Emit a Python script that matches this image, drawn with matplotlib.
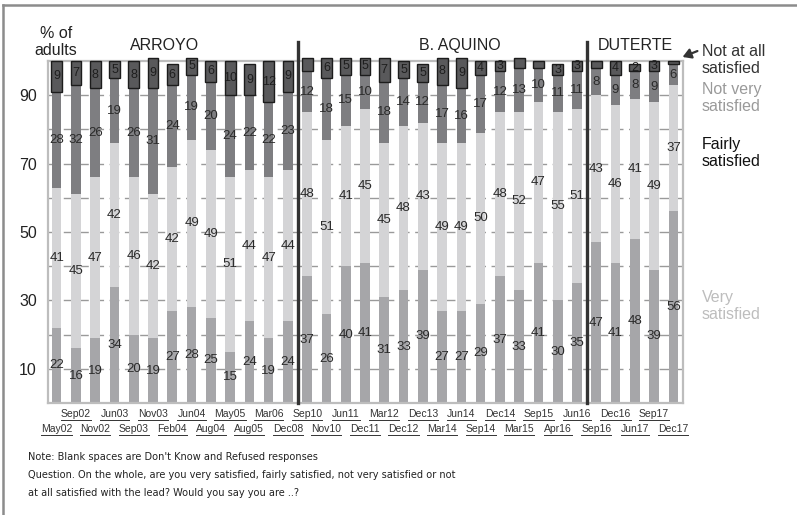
import numpy as np
import matplotlib

matplotlib.use("Agg")
import matplotlib.pyplot as plt
from matplotlib.lines import Line2D
from matplotlib import font_manager

plt.rcParams['font.family'] = ['Liberation Sans', 'DejaVu Sans']

# --- data ---
periods = ["May02", "Sep02", "Nov02", "Jun03", "Sep03", "Nov03", "Feb04", "Jun04",
           "Aug04", "May05", "Aug05", "Mar06", "Dec08",
           "Sep10", "Nov10", "Jun11", "Dec11", "Mar12", "Dec12", "Dec13", "Mar14",
           "Jun14", "Sep14", "Dec14", "Mar15", "Sep15", "Apr16", "Jun16",
           "Sep16", "Dec16", "Jun17", "Sep17", "Dec17"]
very = [22, 16, 19, 34, 20, 19, 27, 28, 25, 15, 24, 19, 24,
        37, 26, 40, 41, 31, 33, 39, 27, 27, 29, 37, 33, 41, 30, 35,
        47, 41, 48, 39, 56]
fairly = [41, 45, 47, 42, 46, 42, 42, 49, 49, 51, 44, 47, 44,
          48, 51, 41, 45, 45, 48, 43, 49, 49, 50, 48, 52, 47, 55, 51,
          43, 46, 41, 49, 37]
not_very = [28, 32, 26, 19, 26, 31, 24, 19, 20, 24, 22, 22, 23,
            12, 18, 15, 10, 18, 14, 12, 17, 16, 17, 12, 13, 10, 11, 11,
            8, 9, 8, 9, 6]
not_at_all = [9, 7, 8, 5, 8, 9, 6, 5, 6, 10, 9, 12, 9,
              4, 6, 5, 5, 7, 5, 5, 8, 9, 4, 3, 3, 2, 3, 3,
              2, 4, 2, 3, 1]
# boxes too small in the original carry no number
not_at_all_shown = [True] * 13 + [False] + [True] * 10 + [False, False, True, True] + \
                   [False, True, True, True, False]
groups = ["ARROYO", "B. AQUINO", "DUTERTE"]
group_sizes = [13, 15, 5]

very = np.array(very)
fairly = np.array(fairly)
not_very = np.array(not_very)
not_at_all = np.array(not_at_all)

c_very = '#a6a6a9'
c_fairly = '#d4d4d6'
c_notvery = '#7e7e81'
c_notatall = '#59595b'

W, H = 797, 515
fig = plt.figure(figsize=(W / 100, H / 100), dpi=100)
ax = fig.add_axes([48 / W, 1 - 403 / H, (683 - 48) / W, (403 - 61) / H])

x = np.arange(len(periods))
bw = 0.5
ax.bar(x, very, bw, color=c_very, zorder=2)
ax.bar(x, fairly, bw, bottom=very, color=c_fairly, zorder=2)
ax.bar(x, not_very, bw, bottom=very + fairly, color=c_notvery, zorder=2)
ax.bar(x, not_at_all, bw + 0.06, bottom=very + fairly + not_very, color=c_notatall,
       edgecolor='#1c1c1c', linewidth=1, zorder=3, clip_on=False)

# numbers inside segments
fs_in = 9.5
for i in x:
    ax.text(i, very[i] / 2, str(very[i]), ha='center', va='center', fontsize=fs_in,
            color='#2a2a2a', zorder=4)
    ax.text(i, very[i] + fairly[i] / 2, str(fairly[i]), ha='center', va='center',
            fontsize=fs_in, color='#2a2a2a', zorder=4)
    ax.text(i, very[i] + fairly[i] + not_very[i] / 2, str(not_very[i]), ha='center',
            va='center', fontsize=fs_in, color='#2a2a2a', zorder=4)
    if not_at_all_shown[i]:
        ax.text(i, very[i] + fairly[i] + not_very[i] + not_at_all[i] / 2,
                str(not_at_all[i]), ha='center', va='center', fontsize=fs_in - 0.5,
                color='#1e1e1e', zorder=5, clip_on=False)

ax.set_xlim(-0.45, len(periods) - 0.5)
ax.set_ylim(0, 100)
ax.set_yticks([10, 30, 50, 70, 90])
ax.set_yticks([20, 40, 60, 80], minor=True)
ax.tick_params(axis='y', which='both', length=0, labelsize=11.5, pad=8, labelcolor='#222')
ax.set_xticks([])
ax.grid(axis='y', which='both', color='#9a9a9a', linestyle=(0, (7, 4)), linewidth=1, zorder=1)
for s in ax.spines.values():
    s.set_color('#bdbdbd')
    s.set_linewidth(1.6)

# presidency dividers
start = 0
for n in group_sizes[:-1]:
    start += n
    ax.add_line(Line2D([start - 0.5, start - 0.5], [0, 105.5], color='#333333', lw=2.4,
                       zorder=6, clip_on=False))

# group titles
ax.text(5.6, 104.4, groups[0], ha='center', va='center', fontsize=11.5, color='#222')
ax.text(20.9, 104.4, groups[1], ha='center', va='center', fontsize=11.5, color='#222')
ax.text(30.0, 104.4, groups[2], ha='center', va='center', fontsize=11.5, color='#222')

fig.text(56 / W, 1 - 42 / H, "% of\nadults", ha='center', va='center', fontsize=11.5,
         color='#222', linespacing=1.15)

# right-hand legend labels
fig.text(702 / W, 1 - 60 / H, "Not at all\nsatisfied", ha='left', va='center',
         fontsize=11.5, color='#333', linespacing=1.2)
fig.text(702 / W, 1 - 98 / H, "Not very\nsatisfied", ha='left', va='center',
         fontsize=11.5, color='#9a9a9a', linespacing=1.2)
fig.text(702 / W, 1 - 153 / H, "Fairly\nsatisfied", ha='left', va='center',
         fontsize=11.5, color='#111', linespacing=1.2)
fig.text(702 / W, 1 - 306 / H, "Very\nsatisfied", ha='left', va='center',
         fontsize=11.5, color='#bdbdbd', linespacing=1.2)
fig.add_artist(matplotlib.patches.FancyArrowPatch(
    (700 / W, 1 - 50 / H), (680 / W, 1 - 58 / H), transform=fig.transFigure,
    arrowstyle='-|>,head_length=5,head_width=3', color='#333', lw=1.6))

# period labels, alternating rows, underlined
tick_texts = []
for i, p in enumerate(periods):
    ypx = 414 if i % 2 else 429
    t = ax.text(i, 0, p, transform=ax.get_xaxis_transform(), ha='center', va='center',
                fontsize=7.5, color='#333')
    t.set_y(-(ypx - 403) / (403 - 61))
    tick_texts.append(t)

# notes - the original uses a condensed face; use one if any is installed
note_prop = font_manager.FontProperties(family=['Liberation Sans', 'DejaVu Sans'])
for f in font_manager.fontManager.ttflist:
    narrow = ('Narrow' in f.name or 'Condensed' in f.name
              or f.stretch in ('condensed', 'semi-condensed'))
    if narrow and f.style == 'normal' and f.weight in (400, 'normal', 'regular') \
            and 'Mono' not in f.name and 'CJK' not in f.name:
        note_prop = font_manager.FontProperties(fname=f.fname)
        break
note_lines = ["Note: Blank spaces are Don't Know and Refused responses",
              "Question. On the whole, are you very satisfied, fairly satisfied, not very satisfied or not",
              "at all satisfied with the lead? Would you say you are ..?"]
note_texts = []
for k, line in enumerate(note_lines):
    t = fig.text(28 / W, 1 - (457 + k * 18) / H, line, ha='left', va='center',
                 color='#222', fontproperties=note_prop)
    t.set_fontsize(9)
    note_texts.append(t)

# outer frame (top and left edges)
fig.add_artist(Line2D([3 / W, 3 / W], [0, 1 - 5 / H], transform=fig.transFigure,
                      color='#8c8c8c', lw=1.8))
fig.add_artist(Line2D([3 / W, 1], [1 - 5 / H, 1 - 5 / H], transform=fig.transFigure,
                      color='#8c8c8c', lw=1.8))

fig.canvas.draw()
renderer = fig.canvas.get_renderer()

# fit the note block to the original's width (second line ~374 px), within limits
wq = note_texts[1].get_window_extent(renderer).width
size = float(np.clip(9 * 374 / wq, 7.8, 9.5))
for t in note_texts:
    t.set_fontsize(size)

for t in tick_texts:
    bb = t.get_window_extent(renderer)
    y = bb.y0 - 0.5
    fig.add_artist(Line2D([bb.x0 / W, bb.x1 / W], [y / H, y / H], transform=fig.transFigure,
                          color='#333', lw=0.7))

fig.savefig("out.png", dpi=100)
